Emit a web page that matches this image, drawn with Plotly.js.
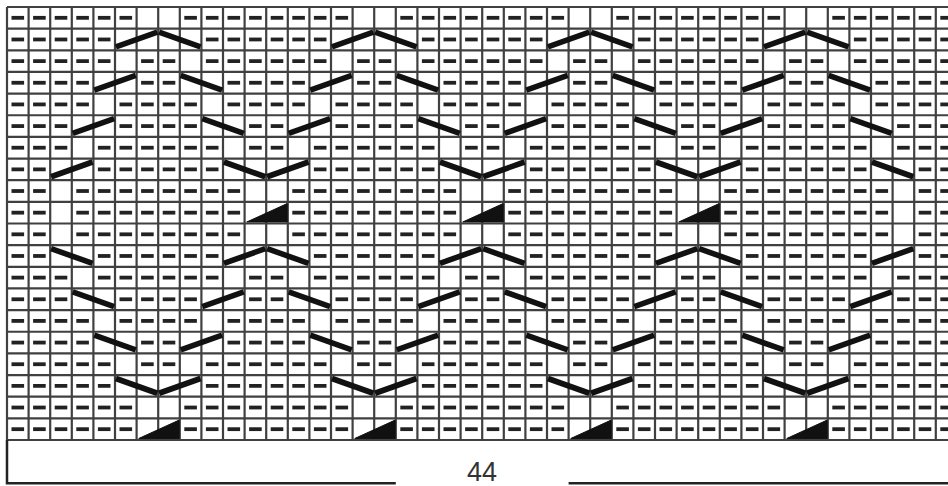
<!DOCTYPE html>
<html>
<head>
<meta charset="utf-8">
<script src="https://cdn.plot.ly/plotly-3.0.1.min.js"></script>
<style>
  html, body { margin: 0; padding: 0; background: #ffffff; }
  #chart { width: 948px; height: 486px; }
</style>
</head>
<body>
<div id="chart"></div>
<script>
// ---- Chart data (knitting chart, read top row first) ----
// P = purl (dash), K = knit (blank), R = rising 2-stitch line, F = falling 2-stitch line, T = black triangle (2 stitches)
const CHART_ROWS = [
  "PP PPPPKKPPPP PPPPKKPPPP PPPPKKPPPP PPPPKKPPPP PP",
  "PP PPPRRFFPPP PPPRRFFPPP PPPRRFFPPP PPPRRFFPPP PP",
  "PP PPPKPPKPPP PPPKPPKPPP PPPKPPKPPP PPPKPPKPPP PP",
  "PP PPRRPPFFPP PPRRPPFFPP PPRRPPFFPP PPRRPPFFPP PP",
  "PP PPKPPPPKPP PPKPPPPKPP PPKPPPPKPP PPKPPPPKPP PP",
  "PP PRRPPPPFFP PRRPPPPFFP PRRPPPPFFP PRRPPPPFFP PP",
  "PP PKPPPPPPKP PKPPPPPPKP PKPPPPPPKP PKPPPPPPKP PP",
  "PP RRPPPPPPFF RRPPPPPPFF RRPPPPPPFF RRPPPPPPFF PP",
  "PP KPPPPPPPPK KPPPPPPPPK KPPPPPPPPK KPPPPPPPPK PP",
  "PP KPPPPPPPPT TPPPPPPPPT TPPPPPPPPT TPPPPPPPPK PP",
  "PP KPPPPPPPPK KPPPPPPPPK KPPPPPPPPK KPPPPPPPPK PP",
  "PP FFPPPPPPRR FFPPPPPPRR FFPPPPPPRR FFPPPPPPRR PP",
  "PP PKPPPPPPKP PKPPPPPPKP PKPPPPPPKP PKPPPPPPKP PP",
  "PP PFFPPPPRRP PFFPPPPRRP PFFPPPPRRP PFFPPPPRRP PP",
  "PP PPKPPPPKPP PPKPPPPKPP PPKPPPPKPP PPKPPPPKPP PP",
  "PP PPFFPPRRPP PPFFPPRRPP PPFFPPRRPP PPFFPPRRPP PP",
  "PP PPPKPPKPPP PPPKPPKPPP PPPKPPKPPP PPPKPPKPPP PP",
  "PP PPPFFRRPPP PPPFFRRPPP PPPFFRRPPP PPPFFRRPPP PP",
  "PP PPPPKKPPPP PPPPKKPPPP PPPPKKPPPP PPPPKKPPPP PP",
  "PP PPPPTTPPPP PPPPTTPPPP PPPPTTPPPP PPPPTTPPPP PP"
];
const STITCH_COUNT = 44;
const WIDTH_LABEL = "44";

// ---- Build marks ----
const rows = CHART_ROWS.map(s => s.replace(/ /g, ''));
const nRows = rows.length;
const nCols = STITCH_COUNT;

const CW = 21.6, RH = 21.65, LEFT = 7, TOP = 7, W = 948, H = 486;

// grid lines
const gx = [], gy = [];
for (let c = 0; c <= nCols; c++) { gx.push(c, c, null); gy.push(0, nRows, null); }
for (let r = 0; r <= nRows; r++) { gx.push(0, nCols, null); gy.push(r, r, null); }

// purl dashes
const px = [], py = [];
// cable lines
const lx = [], ly = [];
// triangles
const tx = [], ty = [];
const ix = 0.04, iy = 0.16;
rows.forEach((row, r) => {
  for (let c = 0; c < row.length; c++) {
    const ch = row[c];
    if (ch === 'P') { px.push(c + 0.5); py.push(r + 0.5); continue; }
    if ((ch === 'R' || ch === 'F' || ch === 'T') && row[c + 1] === ch) {
      if (ch === 'R') { lx.push(c + ix, c + 2 - ix, null); ly.push(r + 1 - iy, r + iy, null); }
      else if (ch === 'F') { lx.push(c + ix, c + 2 - ix, null); ly.push(r + iy, r + 1 - iy, null); }
      else {
        tx.push(c + 0.1, c + 1.97, c + 1.97, c + 0.1, null);
        ty.push(r + 0.93, r + 0.93, r + 0.08, r + 0.93, null);
      }
      c++;
    }
  }
});

// bracket under chart
const half = nCols / 2;
const by = nRows + 2;
const bx = [0, 0, half - 4, null, half + 4, nCols + 2];
const byy = [nRows, by, by, null, by, by];

const traces = [
  { type: 'scatter', mode: 'lines', x: gx, y: gy, line: { color: '#404040', width: 2.2 }, hoverinfo: 'skip' },
  { type: 'scatter', mode: 'markers', x: px, y: py,
    marker: { symbol: 'line-ew', size: 9, color: '#222222', line: { color: '#222222', width: 3.8 } }, hoverinfo: 'skip' },
  { type: 'scatter', mode: 'lines', x: lx, y: ly, line: { color: '#111111', width: 5.6 }, hoverinfo: 'skip' },
  { type: 'scatter', mode: 'lines', x: tx, y: ty, fill: 'toself', fillcolor: '#111111',
    line: { color: '#111111', width: 1 }, hoverinfo: 'skip' },
  { type: 'scatter', mode: 'lines', x: bx, y: byy, line: { color: '#222222', width: 2.5 }, hoverinfo: 'skip' }
];

const layout = {
  width: W, height: H,
  margin: { l: 0, r: 0, t: 0, b: 0, pad: 0 },
  paper_bgcolor: '#ffffff', plot_bgcolor: '#ffffff',
  showlegend: false,
  xaxis: { range: [-LEFT / CW, (W - LEFT) / CW], visible: false, fixedrange: true },
  yaxis: { range: [(H - TOP) / RH, -TOP / RH], visible: false, fixedrange: true },
  annotations: [{
    x: half, y: nRows + 1.5, xref: 'x', yref: 'y', text: WIDTH_LABEL, showarrow: false,
    xanchor: 'center', yanchor: 'middle',
    font: { family: 'Liberation Sans, Arial, sans-serif', size: 27, color: '#333333' }
  }]
};

Plotly.newPlot('chart', traces, layout, { staticPlot: true, displayModeBar: false });
</script>
</body>
</html>
